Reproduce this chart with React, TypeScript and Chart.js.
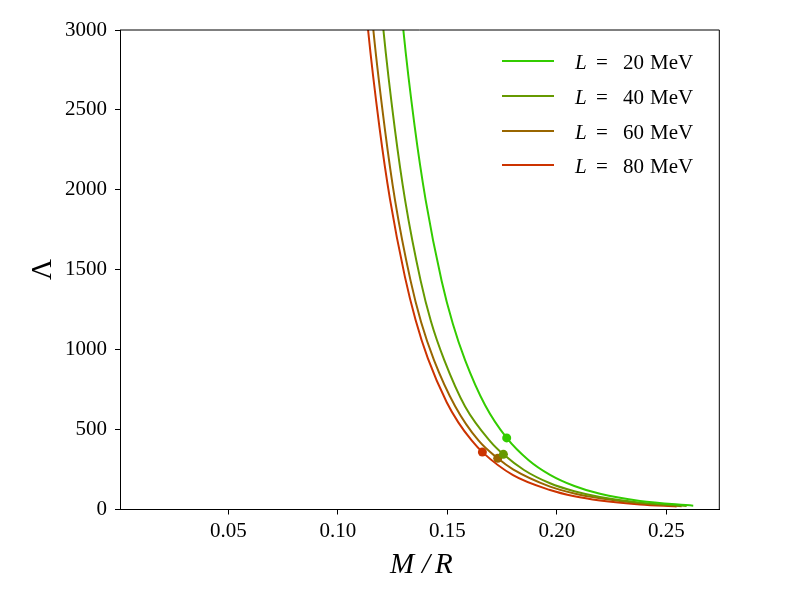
import React, { useEffect, useRef } from "react";
import { Chart, registerables } from "chart.js";

Chart.register(...registerables);

// Compactness M/R and tidal deformability Λ for each L curve
const mr20 = [0.1215, 0.1299, 0.135, 0.1401, 0.1474, 0.1525, 0.1581, 0.1672, 0.1771, 0.187, 0.1969, 0.208, 0.2197, 0.238, 0.2623];
const lam20 = [4320, 3000, 2405, 1936, 1430, 1162, 935, 654, 448, 310, 217, 147, 98, 53, 24];

const mr40 = [0.1135, 0.1208, 0.126, 0.1307, 0.1378, 0.1425, 0.1486, 0.1581, 0.1695, 0.1756, 0.185, 0.1969, 0.208, 0.2197, 0.238, 0.2593];
const lam40 = [4150, 3000, 2383, 1936, 1432, 1178, 935, 645, 428, 345, 247, 164, 114, 78, 43, 22];

const mr60 = [0.109, 0.1162, 0.1215, 0.1261, 0.1332, 0.138, 0.1439, 0.1535, 0.1642, 0.173, 0.18, 0.1969, 0.208, 0.2197, 0.238, 0.257];
const lam60 = [4130, 3000, 2377, 1936, 1432, 1173, 935, 648, 432, 320, 251, 143, 100, 70, 39, 21];

const mr80 = [0.1066, 0.1138, 0.119, 0.1238, 0.1306, 0.1355, 0.1411, 0.1497, 0.155, 0.1611, 0.166, 0.18, 0.1969, 0.208, 0.2197, 0.238, 0.2547];
const lam80 = [4135, 3000, 2391, 1942, 1457, 1186, 945, 671, 545, 432, 359, 215, 122, 83, 57, 32, 19];

// Marked points on each curve (L = 20, 40, 60, 80)
const dotMR = [0.1771, 0.1756, 0.173, 0.166];
const dotLambda = [448, 345, 320, 359];

const lValues = [20, 40, 60, 80];
const colors = ["#33cc00", "#669900", "#996600", "#cc3300"];

const xTicks = [0.05, 0.1, 0.15, 0.2, 0.25];
const yTicks = [0, 500, 1000, 1500, 2000, 2500, 3000];

const FONT = '"Liberation Serif", "DejaVu Serif", serif';

function toPts(xs: number[], ys: number[]) {
  return xs.map((x, i) => ({ x, y: ys[i] }));
}

export default function App() {
  const ref = useRef<HTMLCanvasElement | null>(null);

  useEffect(() => {
    if (!ref.current) return;
    const curves = [
      [mr20, lam20],
      [mr40, lam40],
      [mr60, lam60],
      [mr80, lam80],
    ];
    const lineSets = curves.map((c, i) => ({
      label: `L = ${lValues[i]} MeV`,
      data: toPts(c[0], c[1]),
      showLine: true,
      borderColor: colors[i],
      backgroundColor: colors[i],
      borderWidth: 2,
      pointRadius: 0,
      cubicInterpolationMode: "monotone" as const,
      clip: 0,
    }));
    const dotSets = dotMR.map((x, i) => ({
      label: `dot${i}`,
      data: [{ x, y: dotLambda[i] }],
      showLine: false,
      pointRadius: 4.5,
      pointBackgroundColor: colors[i],
      pointBorderColor: colors[i],
      pointBorderWidth: 0,
      borderColor: colors[i],
      backgroundColor: colors[i],
    }));

    const overlay = {
      id: "overlay",
      afterDraw(chart: any) {
        const ctx = chart.ctx;
        const a = chart.chartArea;
        ctx.save();
        // top and right spines
        ctx.strokeStyle = "#000";
        ctx.lineWidth = 1;
        ctx.beginPath();
        ctx.moveTo(a.left, a.top);
        ctx.lineTo(a.right, a.top);
        ctx.lineTo(a.right, a.bottom);
        ctx.stroke();

        // legend
        const rows = [61, 96, 131, 165];
        lValues.forEach((l, i) => {
          const y = rows[i];
          ctx.strokeStyle = colors[i];
          ctx.lineWidth = 2;
          ctx.beginPath();
          ctx.moveTo(502, y);
          ctx.lineTo(554, y);
          ctx.stroke();
          ctx.fillStyle = "#000";
          ctx.textBaseline = "middle";
          ctx.textAlign = "left";
          ctx.font = `italic 21px ${FONT}`;
          ctx.fillText("L", 575, y + 2);
          ctx.font = `21px ${FONT}`;
          ctx.fillText("=", 596, y + 2);
          ctx.fillText(String(l), 623, y + 2);
          ctx.fillText("MeV", 650, y + 2);
        });

        // axis titles
        ctx.fillStyle = "#000";
        ctx.textAlign = "left";
        ctx.textBaseline = "alphabetic";
        ctx.font = `italic 29px ${FONT}`;
        ctx.fillText("M", 390, 573);
        ctx.fillText("/", 422, 573);
        ctx.fillText("R", 435, 573);
        ctx.translate(51, 269.5);
        ctx.rotate(-Math.PI / 2);
        ctx.textAlign = "center";
        ctx.font = `29px ${FONT}`;
        ctx.fillText("Λ", 0, 0);
        ctx.restore();
      },
    };

    const chart = new Chart(ref.current, {
      type: "scatter",
      data: { datasets: [...lineSets, ...dotSets] as any },
      options: {
        animation: false,
        responsive: false,
        maintainAspectRatio: false,
        layout: { padding: { left: 0, right: 80.7, top: 30, bottom: 0 } },
        plugins: {
          legend: { display: false },
          tooltip: { enabled: false },
        },
        scales: {
          x: {
            type: "linear",
            min: 0.0005,
            max: 0.2742,
            afterBuildTicks: (s: any) => {
              s.ticks = xTicks.map((v) => ({ value: v }));
            },
            afterFit: (s: any) => {
              s.height = 90.5;
            },
            ticks: {
              color: "#000",
              font: { family: FONT, size: 21 },
              padding: 4,
              maxRotation: 0,
              callback: (v: any) => Number(v).toFixed(2),
            },
            grid: {
              display: true,
              drawOnChartArea: false,
              drawTicks: true,
              tickLength: 5,
              color: "#000",
            },
            border: { display: true, color: "#000", width: 1 },
          },
          y: {
            type: "linear",
            min: 0,
            max: 3000,
            afterBuildTicks: (s: any) => {
              s.ticks = yTicks.map((v) => ({ value: v }));
            },
            afterFit: (s: any) => {
              s.width = 120;
            },
            ticks: {
              color: "#000",
              font: { family: FONT, size: 21 },
              padding: 8,
              callback: (v: any) => String(v),
            },
            grid: {
              display: true,
              drawOnChartArea: false,
              drawTicks: true,
              tickLength: 5,
              color: "#000",
            },
            border: { display: true, color: "#000", width: 1 },
          },
        },
      },
      plugins: [overlay],
    });
    return () => chart.destroy();
  }, []);

  return (
    <div style={{ position: "fixed", left: 0, top: 0, width: 800, height: 600, background: "#fff" }}>
      <canvas ref={ref} width={800} height={600} style={{ width: 800, height: 600, display: "block" }} />
    </div>
  );
}
